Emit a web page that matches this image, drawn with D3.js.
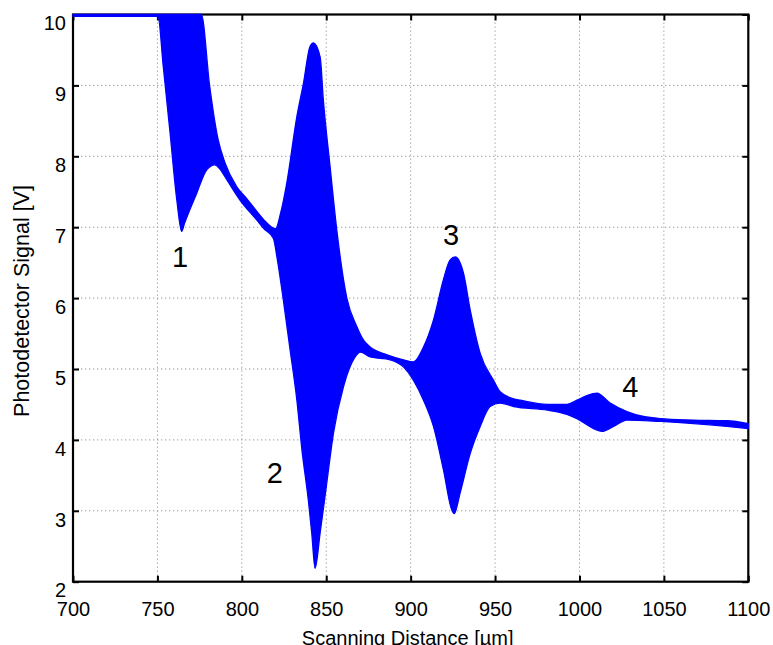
<!DOCTYPE html>
<html><head><meta charset="utf-8">
<script src="https://cdn.jsdelivr.net/npm/d3@7"></script>
<style>
body{margin:0;background:#fff}
svg{display:block}
text{font-family:"Liberation Sans",Arial,Helvetica,sans-serif;fill:#000}
</style>
</head><body>
<svg id="chart" width="773" height="645"></svg>
<script>
// ---- data ----
const xTicks = [700, 750, 800, 850, 900, 950, 1000, 1050, 1100];
const yTicks = [2, 3, 4, 5, 6, 7, 8, 9, 10];

// upper envelope of the oscillating photodetector signal
const upperX = [700, 750, 776, 781, 786, 790, 797, 803, 809, 814, 820, 823, 826.6, 832.6, 836.5, 840.4, 842.4, 846.4, 848.3, 852.3, 856.3, 862.2, 868.1, 872, 876, 886, 895.7, 901.7, 907.6, 913.5, 919.4, 923.4, 926.4, 931.3, 935.3, 941.2, 949.1, 953, 961, 965, 981, 992.6, 998.5, 1004, 1010.3, 1018.2, 1028.1, 1037.9, 1047.8, 1067.6, 1087.4, 1100];
const upperY = [10, 10, 10, 8.98, 8.23, 7.91, 7.57, 7.40, 7.22, 7.08, 6.98, 7.20, 7.62, 8.56, 9.03, 9.55, 9.60, 9.40, 8.79, 7.85, 6.95, 6.00, 5.60, 5.41, 5.31, 5.20, 5.13, 5.10, 5.31, 5.69, 6.26, 6.54, 6.58, 6.35, 5.83, 5.22, 4.84, 4.68, 4.58, 4.56, 4.50, 4.50, 4.56, 4.62, 4.66, 4.52, 4.40, 4.33, 4.30, 4.28, 4.27, 4.23];

// lower envelope
const lowerX = [700, 750.3, 753.5, 757.5, 761.5, 764.4, 766, 773.3, 779.2, 784.1, 787, 791.1, 799, 808.9, 813, 818.7, 821, 824.6, 828.6, 832.6, 835.6, 839.4, 841.4, 843.4, 846.4, 850.3, 854.3, 860.2, 867.1, 870.1, 876, 887.9, 895.7, 901.7, 907.6, 913.5, 919.4, 924.4, 925.8, 929.3, 935.3, 941.2, 947.1, 953, 961, 981, 992.6, 998.5, 1008.3, 1013.3, 1020.2, 1028.1, 1047.8, 1067.6, 1087.4, 1100];
const lowerY = [9.975, 9.975, 9.26, 8.33, 7.38, 6.94, 7.05, 7.48, 7.81, 7.88, 7.82, 7.67, 7.38, 7.10, 6.98, 6.84, 6.55, 5.97, 5.27, 4.56, 3.86, 3.15, 2.69, 2.19, 2.69, 3.39, 4.10, 4.75, 5.17, 5.24, 5.17, 5.13, 5.03, 4.84, 4.56, 4.19, 3.58, 3.01, 2.96, 3.25, 3.81, 4.19, 4.47, 4.52, 4.47, 4.42, 4.36, 4.30, 4.16, 4.12, 4.19, 4.28, 4.26, 4.23, 4.19, 4.16];

// peak annotations
const peakLabels = ["1", "2", "3", "4"];
const peakLabelX = [763.4, 819.5, 923.9, 1030.1];
const peakLabelY = [6.59, 3.54, 6.90, 4.75];

const xTitle = "Scanning Distance [\u00b5m]";
const yTitle = "Photodetector Signal [V]";

// ---- layout ----
const W = 773, H = 645;
const L = 73, R = 748.3, T = 14.5, B = 581.7;

const svg = d3.select("#chart");
svg.append("rect").attr("width", W).attr("height", H).attr("fill", "#fff");

const x = d3.scaleLinear().domain([700, 1100]).range([L, R]);
const y = d3.scaleLinear().domain([2, 10]).range([B, T]);

// grid
const grid = svg.append("g").attr("stroke", "#9a9a9a").attr("stroke-width", 1).attr("stroke-dasharray", "1.3,2.7");
grid.selectAll("line.gx").data(xTicks.slice(1, -1)).join("line")
  .attr("x1", d => x(d)).attr("x2", d => x(d)).attr("y1", T).attr("y2", B);
grid.selectAll("line.gy").data(yTicks.slice(1, -1)).join("line")
  .attr("x1", L).attr("x2", R).attr("y1", d => y(d)).attr("y2", d => y(d));

// axes (ticks inside)
const axB = svg.append("g").attr("transform", `translate(0,${B})`)
  .call(d3.axisBottom(x).tickValues(xTicks).tickSizeInner(-6).tickSizeOuter(0).tickFormat(d3.format("d")));
const axL = svg.append("g").attr("transform", `translate(${L},0)`)
  .call(d3.axisLeft(y).tickValues(yTicks).tickSizeInner(-6).tickSizeOuter(0).tickFormat(d3.format("d")));
const axT = svg.append("g").attr("transform", `translate(0,${T})`)
  .call(d3.axisTop(x).tickValues(xTicks).tickSizeInner(-6).tickSizeOuter(0).tickFormat(""));
const axR = svg.append("g").attr("transform", `translate(${R},0)`)
  .call(d3.axisRight(y).tickValues(yTicks).tickSizeInner(-6).tickSizeOuter(0).tickFormat(""));

[axB, axL, axT, axR].forEach(a => {
  a.select(".domain").remove();
  a.selectAll(".tick line").attr("stroke", "#000").attr("stroke-width", 2);
});
axB.selectAll(".tick text").attr("y", 27).attr("dy", "0.36em")
  .attr("font-size", 20).attr("font-family", "Liberation Sans, Arial, sans-serif").attr("fill", "#000");
axL.selectAll(".tick text").attr("x", -7).attr("y", 8).attr("dy", "0.36em")
  .attr("font-size", 20).attr("font-family", "Liberation Sans, Arial, sans-serif").attr("fill", "#000");

// box
svg.append("rect").attr("x", L).attr("y", T).attr("width", R - L).attr("height", B - T)
  .attr("fill", "none").attr("stroke", "#000").attr("stroke-width", 2.2);

// signal envelope (smooth upper edge, then smooth lower edge back)
const curve = d3.curveMonotoneX;
const upPts = upperX.map((d, i) => [d, upperY[i]]);
const loPts = lowerX.map((d, i) => [d, lowerY[i]]).reverse();
const line = d3.line().x(d => x(d[0])).y(d => y(d[1])).curve(curve);
const upD = line(upPts);
const loD = line(loPts).replace(/^M/, "L");
svg.append("path").attr("d", upD + loD + "Z")
  .attr("fill", "#0000ff").attr("stroke", "#0000ff").attr("stroke-width", 1.3)
  .attr("stroke-linejoin", "round");

// peak labels
svg.append("g").selectAll("text").data(peakLabels).join("text")
  .attr("x", (d, i) => x(peakLabelX[i])).attr("y", (d, i) => y(peakLabelY[i]))
  .attr("dy", "0.36em").attr("text-anchor", "middle").attr("font-size", 29)
  .text(d => d);

// axis titles
svg.append("text").attr("x", (L + R) / 2 - 3).attr("y", 645)
  .attr("text-anchor", "middle").attr("font-size", 20).text(xTitle);
svg.append("text").attr("transform", `translate(29,301) rotate(-90)`)
  .attr("text-anchor", "middle").attr("font-size", 21.5).text(yTitle);
</script>
</body></html>
